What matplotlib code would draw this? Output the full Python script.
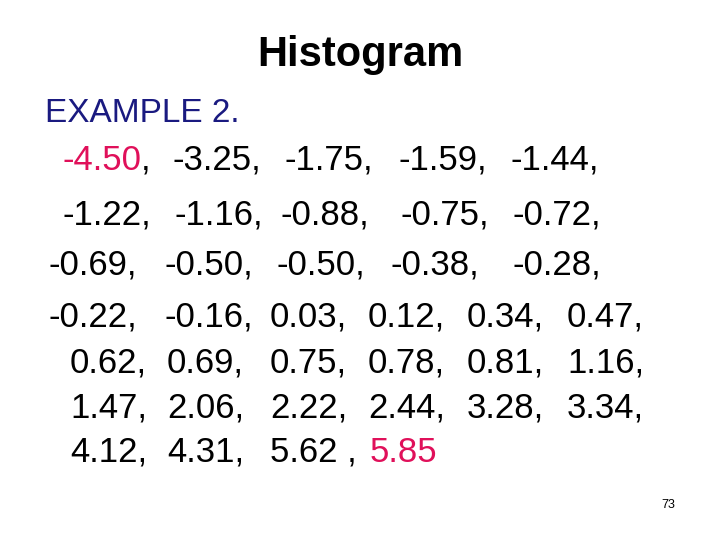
import matplotlib.pyplot as plt

plt.rcParams['font.family'] = ['Liberation Sans', 'DejaVu Sans']

title = "Histogram"
subtitle = "EXAMPLE 2."
page = "73"

# sample values, row by row as shown on the slide
rows = [
    ["-4.50", "-3.25", "-1.75", "-1.59", "-1.44"],
    ["-1.22", "-1.16", "-0.88", "-0.75", "-0.72"],
    ["-0.69", "-0.50", "-0.50", "-0.38", "-0.28"],
    ["-0.22", "-0.16", "0.03", "0.12", "0.34", "0.47"],
    ["0.62", "0.69", "0.75", "0.78", "0.81", "1.16"],
    ["1.47", "2.06", "2.22", "2.44", "3.28", "3.34"],
    ["4.12", "4.31", "5.62", "5.85"],
]
highlight = {(0, 0), (6, 3)}

# layout (pixels)
row_y = [160, 215, 265, 317, 363, 408, 452]
col_x = [
    [62, 173, 285, 398, 510],
    [62, 175, 280, 400, 512],
    [48, 165, 277, 390, 512],
    [48, 165, 270, 368, 467, 567],
    [70, 167, 270, 368, 467, 567],
    [70, 167, 270, 368, 467, 567],
    [70, 167, 270, 370],
]

W, H = 720, 540
FS = 25
fig = plt.figure(figsize=(7.2, 5.4), dpi=100)
ax = fig.add_axes([0, 0, 1, 1])
ax.set_xlim(0, W)
ax.set_ylim(H, 0)
ax.axis("off")

ax.text(360, 55, title, ha="center", va="center", fontsize=30, fontweight="bold")
ax.text(45, 113, subtitle, ha="left", va="center", fontsize=24, color="#1a1a80")

red = "#e0105a"
fig.canvas.draw()
renderer = fig.canvas.get_renderer()
for i, row in enumerate(rows):
    for j, v in enumerate(row):
        is_last = i == len(rows) - 1 and j == len(row) - 1
        x = col_x[i][j]
        if (i, j) in highlight:
            t = ax.text(x, row_y[i], v, ha="left", va="center", fontsize=FS, color=red)
            if not is_last:
                bb = t.get_window_extent(renderer).transformed(ax.transData.inverted())
                ax.text(bb.x1, row_y[i], ",", ha="left", va="center", fontsize=FS)
        else:
            sep = " ," if v == "5.62" else ","
            ax.text(x, row_y[i], v + sep, ha="left", va="center", fontsize=FS)

ax.text(668, 505, page, ha="center", va="center", fontsize=9)

fig.savefig("out.png", dpi=100)
